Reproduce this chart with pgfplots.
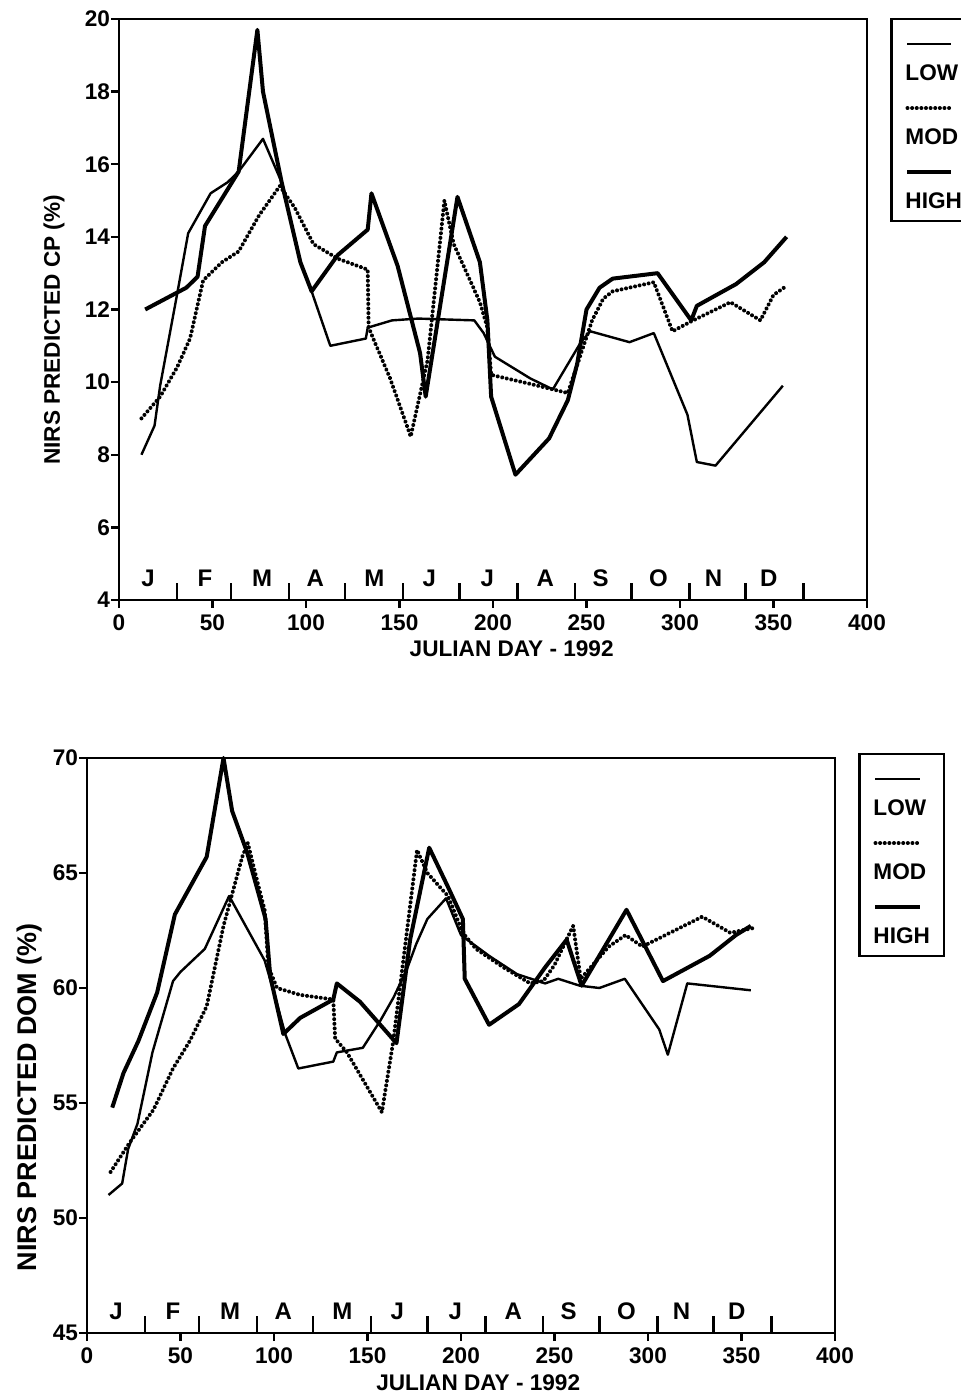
\documentclass[border=0pt]{standalone}
\usepackage{fontspec}
\setmainfont{Liberation Sans}
\usepackage{pgfplots}
\pgfplotsset{compat=1.18}

\newcommand{\lf}{\fontsize{11.3}{13}\selectfont\bfseries}

\tikzset{
  mlab/.style={anchor=base, yshift=6.5pt, inner sep=0pt, font=\fontsize{12}{14}\selectfont\bfseries},
  lowS/.style={black, line width=1.2pt, line join=round},
  modS/.style={black, line width=2pt, dash pattern=on 0.01pt off 2.3pt, line cap=round},
  highS/.style={black, line width=2pt, line join=round},
}

\newcommand{\months}[1]{%
  \node[mlab] at (axis cs:15.5,#1) {J};
  \node[mlab] at (axis cs:46,#1) {F};
  \node[mlab] at (axis cs:76.5,#1) {M};
  \node[mlab] at (axis cs:105,#1) {A};
  \node[mlab] at (axis cs:136.5,#1) {M};
  \node[mlab] at (axis cs:166,#1) {J};
  \node[mlab] at (axis cs:197,#1) {J};
  \node[mlab] at (axis cs:228,#1) {A};
  \node[mlab] at (axis cs:257.5,#1) {S};
  \node[mlab] at (axis cs:288.5,#1) {O};
  \node[mlab] at (axis cs:318,#1) {N};
  \node[mlab] at (axis cs:347.5,#1) {D};
}

\pgfplotsset{
  myaxis/.style={
    scale only axis, width=374pt, xmin=0, xmax=400,
    xtick={0,50,...,400},
    extra x ticks={31,60,91,121,152,182,213,244,274,305,335,366},
    extra x tick labels={},
    extra x tick style={tick align=inside, major tick length=8.5pt},
    tick align=outside, major tick length=4pt,
    xtick pos=left, ytick pos=left,
    axis line style={line width=1.4pt},
    every tick/.style={black, line width=1.2pt},
    tick label style={font=\lf},
    yticklabel style={xshift=3pt},
    /pgf/number format/assume math mode=true,
    clip=false,
    xlabel={JULIAN DAY - 1992},
    legend cell align=left,
    legend image code/.code={\draw[##1, overlay] (3pt,18pt) -- (25pt,18pt);},
    legend style={draw=black, line width=1.3pt, inner xsep=5pt, inner ysep=4.5pt,
      row sep=4pt, column sep=0pt, font=\lf, anchor=north west,
      cells={anchor=base west},
      nodes={text height=24pt, text depth=0pt, inner sep=2pt}},
  }
}

\begin{document}
\begin{tikzpicture}
\useasboundingbox (0,0) rectangle (480.5pt,696.5pt);
\clip (0,0) rectangle (480.5pt,696.5pt);

% ---------------- top panel ----------------
\begin{axis}[myaxis, at={(59.5pt,396.5pt)}, anchor=south west,
  height=290.5pt, ymin=4, ymax=20, ytick={4,6,...,20},
  ylabel={NIRS PREDICTED CP (\%)},
  xlabel style={at={(axis description cs:0.525,0)}, anchor=base, yshift=-28.5pt, font=\lf},
  ylabel style={at={(axis description cs:-0.079,0.465)}, anchor=base, font=\lf},
  legend style={at={(axis description cs:1.031,1.002)}},
]
\addplot[lowS] coordinates {(12,8.0)(19,8.8)(22,9.9)(31,12.4)(37,14.1)(49,15.2)(58,15.5)(64,15.8)(77,16.7)(87,15.5)(97,13.3)(103,12.5)(113,11.0)(132,11.2)(133,11.5)(146,11.7)(160,11.75)(190,11.7)(195,11.35)(201,10.7)(220,10.1)(232,9.8)(247,11.1)(252,11.4)(273,11.1)(286,11.35)(304,9.1)(309,7.8)(319,7.7)(355,9.9)};
\addlegendentry{LOW}
\addplot[modS] coordinates {(12,9.0)(22,9.6)(31,10.4)(38,11.2)(45,12.8)(55,13.3)(64,13.6)(75,14.6)(86,15.4)(94,14.8)(104,13.8)(117,13.4)(133,13.1)(133.5,11.5)(145,10.1)(156,8.5)(165,10.6)(174,15.0)(179,13.8)(193,12.2)(197,11.5)(199,10.2)(220,9.95)(240,9.7)(253,11.7)(259,12.3)(264,12.5)(286,12.75)(296,11.4)(307,11.7)(327,12.2)(343,11.7)(350,12.4)(357,12.65)};
\addlegendentry{MOD}
\addplot[highS] coordinates {(14,12.0)(36,12.6)(42,12.9)(46,14.3)(64,15.8)(74,19.7)(77,18.0)(87,15.5)(97,13.3)(103,12.5)(117,13.5)(133,14.2)(135,15.2)(149,13.2)(161,10.8)(164,9.6)(181,15.1)(193,13.3)(197,11.7)(199,9.6)(212,7.45)(230,8.45)(240,9.5)(245,10.5)(250,12.0)(257,12.6)(264,12.85)(288,13.0)(306,11.7)(309,12.1)(330,12.7)(345,13.3)(357,14.0)};
\addlegendentry{HIGH}
\months{4}
\end{axis}

% ---------------- bottom panel ----------------
\begin{axis}[myaxis, at={(43.5pt,30pt)}, anchor=south west,
  height=287.5pt, ymin=45, ymax=70, ytick={45,50,...,70},
  ylabel={NIRS PREDICTED DOM (\%)},
  xlabel style={at={(axis description cs:0.523,0)}, anchor=base, yshift=-28.5pt, font=\lf},
  ylabel style={at={(axis description cs:-0.068,0.41)}, anchor=base, font=\fontsize{13.5}{16}\selectfont\bfseries},
  legend style={at={(axis description cs:1.031,1.009)}},
]
\addplot[lowS] coordinates {(11.5,51.0)(18.8,51.5)(22,53.0)(27,54.1)(35,57.2)(46,60.3)(50,60.7)(63,61.7)(76,64.0)(95,61.2)(100,59.8)(106,58.0)(113,56.5)(131.7,56.8)(133.6,57.2)(147.5,57.4)(157,58.6)(164,59.6)(171,60.8)(176,61.9)(182,63.0)(192,63.9)(200,62.3)(215,61.4)(230,60.6)(245,60.2)(252,60.4)(263.5,60.1)(274,60.0)(287.6,60.4)(306,58.2)(310.6,57.1)(321,60.2)(355,59.9)};
\addlegendentry{LOW}
\addplot[modS] coordinates {(12.6,52.0)(23,53.3)(35.5,54.7)(46,56.5)(55,57.7)(64,59.2)(73,62.7)(83,65.7)(86,66.3)(92.7,64.1)(95,63.4)(97,60.9)(101.6,60.0)(114,59.7)(131.7,59.5)(132.7,57.8)(139,57.2)(157.7,54.6)(163.8,57.7)(176.5,66.0)(182,65.0)(193,64.0)(201,62.4)(208,61.7)(222.6,60.9)(237,60.2)(244,60.3)(250,61.0)(257,62.2)(260,62.7)(264,60.4)(279,61.8)(288,62.3)(297,61.8)(329,63.1)(344,62.4)(356,62.6)};
\addlegendentry{MOD}
\addplot[highS] coordinates {(13.5,54.8)(19.5,56.3)(27.5,57.7)(37.5,59.8)(47,63.2)(64,65.7)(73,70.0)(77.6,67.7)(85.6,65.9)(95.5,63.0)(98,60.5)(105,58.0)(114,58.7)(131.7,59.5)(133.6,60.2)(146,59.4)(165.5,57.6)(172.8,62.1)(183,66.1)(193,64.4)(201,63.0)(202,60.4)(215,58.4)(231,59.3)(245,60.9)(256.5,62.1)(264.5,60.1)(288.5,63.4)(308,60.3)(333,61.4)(347,62.3)(355,62.7)};
\addlegendentry{HIGH}
\months{45}
\end{axis}
\end{tikzpicture}
\end{document}
